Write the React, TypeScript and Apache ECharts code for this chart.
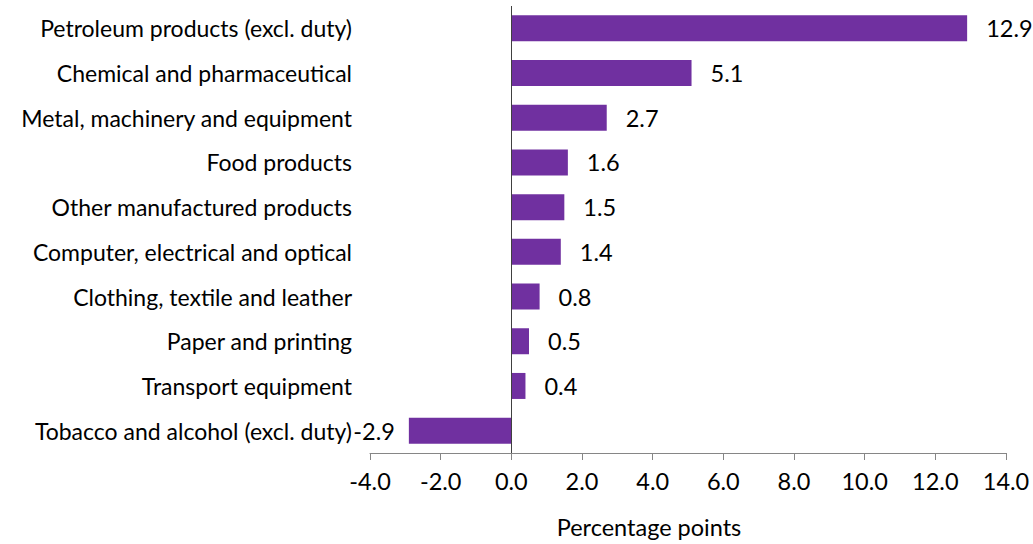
import React, { useEffect, useRef } from "react";
import * as echarts from "echarts";

const categories = [
  "Petroleum products (excl. duty)",
  "Chemical and pharmaceutical",
  "Metal, machinery and equipment",
  "Food products",
  "Other manufactured products",
  "Computer, electrical and optical",
  "Clothing, textile and leather",
  "Paper and printing",
  "Transport equipment",
  "Tobacco and alcohol (excl. duty)",
];
const values = [12.9, 5.1, 2.7, 1.6, 1.5, 1.4, 0.8, 0.5, 0.4, -2.9];
const axisName = "Percentage points";

const FONT = "Lato, 'Noto Sans', sans-serif";
const FS_CAT = 23;
const FS = 23.5;

export default function App() {
  const ref = useRef<HTMLDivElement>(null);
  useEffect(() => {
    if (!ref.current) return;
    const chart = echarts.init(ref.current, undefined, { renderer: "svg" });
    chart.setOption({
      animation: false,
      textStyle: { fontFamily: FONT },
      grid: { left: 370, right: 27, top: 6, bottom: 91, containLabel: false },
      xAxis: {
        type: "value",
        min: -4,
        max: 14,
        interval: 2,
        name: axisName,
        nameLocation: "middle",
        nameGap: 62,
        nameTextStyle: {
          fontFamily: FONT,
          fontSize: FS,
          color: "#000",
          padding: [0, 78, 0, 0],
        },
        axisLine: { show: true, onZero: false, lineStyle: { color: "#868686", width: 1 } },
        axisTick: { show: true, length: 7, lineStyle: { color: "#868686" } },
        axisLabel: {
          margin: 16,
          fontFamily: FONT,
          fontSize: FS,
          color: "#000",
          formatter: (v: number) => v.toFixed(1),
        },
        splitLine: { show: false },
      },
      yAxis: {
        type: "category",
        data: categories,
        inverse: true,
        axisLine: { show: false },
        axisTick: { show: false },
        axisLabel: {
          margin: 18,
          fontFamily: FONT,
          fontSize: FS_CAT,
          color: "#000",
        },
        splitLine: { show: false },
      },
      series: [
        {
          type: "bar",
          data: values.map((v) => ({
            value: v,
            label: {
              show: true,
              position: v < 0 ? "left" : "right",
              distance: v < 0 ? 14 : 19,
              fontFamily: FONT,
              fontSize: FS,
              color: "#000",
              formatter: (p: any) => Number(p.value).toFixed(1),
            },
          })),
          barWidth: 26,
          itemStyle: { color: "#7030A0" },
          markLine: {
            silent: true,
            symbol: "none",
            label: { show: false },
            lineStyle: { color: "#404040", width: 1, type: "solid" },
            data: [{ xAxis: 0 }],
          },
        },
      ],
    });
    return () => chart.dispose();
  }, []);
  return (
    <div
      ref={ref}
      style={{ position: "absolute", left: 0, top: 0, width: 1033, height: 544 }}
    />
  );
}
